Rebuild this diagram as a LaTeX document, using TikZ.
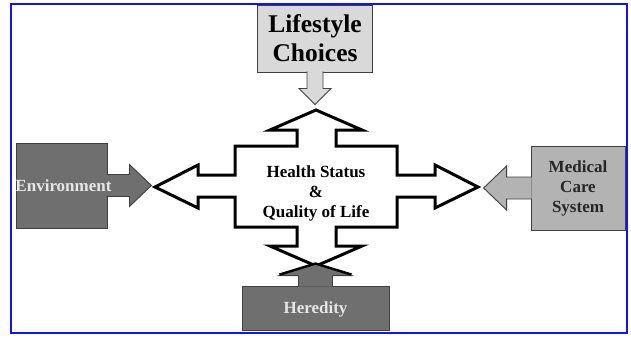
\documentclass[tikz,border=0pt]{standalone}
\usepackage{fontspec}
\setmainfont{Liberation Serif}
\usetikzlibrary{positioning}
\definecolor{lightgrey}{HTML}{D9D9D9}
\definecolor{midgrey}{HTML}{B3B3B3}
\definecolor{darkgrey}{HTML}{6F6F6F}
\definecolor{paletext}{HTML}{E6E6E6}
\definecolor{frameblue}{HTML}{1414F0}
\begin{document}
\begin{tikzpicture}[x=1pt,y=-1pt,
    factor/.style={draw=black!75, line width=0.9pt},
    bigtext/.style={font=\fontsize{25.5}{29}\selectfont\bfseries, align=center},
    smalltext/.style={font=\fontsize{17}{20}\selectfont\bfseries, align=center}]
            \useasboundingbox (0,0) rectangle (631,337);

            % Boxes with manual coordinates
            \node[factor, fill=lightgrey, minimum width=115, minimum height=67, bigtext] (life) at (315,38.5) {Lifestyle\\Choices};
            \node[factor, fill=darkgrey, minimum width=91, minimum height=85] (env) at (61.5,185.5) {};
            \node[factor, fill=midgrey, minimum width=94, minimum height=84, smalltext, text=black!85] (med) at (578,188) {Medical\\Care\\System};
            \node[factor, fill=darkgrey, minimum width=147, minimum height=44] (her) at (315.5,308) {};

            % Arrows out of the boxes
            \filldraw[factor, fill=lightgrey] ([shift={(-8,-1)}]life.south) -- ++(0,17) -- ++(-8,0) -- ++(16,16) -- ++(16,-16) -- ++(-8,0) -- ++(0,-17);
            \filldraw[factor, fill=darkgrey] ([shift={(-1,-11)}]env.east) -- ++(23,0) -- ++(0,-10) -- ++(22,21) -- ++(-22,21) -- ++(0,-10) -- ++(-23,0);
            \filldraw[factor, fill=midgrey] ([shift={(1,-11)}]med.west) -- ++(-25,0) -- ++(0,-11) -- ++(-23,22) -- ++(23,22) -- ++(0,-11) -- ++(25,0);

            % Labels
            \node[smalltext, text=paletext] (envlabel) at ([xshift=2pt]env.center) {Environment};
            \node[smalltext, text=paletext] (herlabel) at ([yshift=-1pt]her.center) {Heredity};

            % Centre cross
            \filldraw[fill=white, draw=black, line width=3pt, line join=miter]
              (316,110) -- (362,130) -- (336,130) -- (336,146) -- (397,146) -- (397,175)
              -- (435,175) -- (435,165) -- (478,187) -- (435,208) -- (435,197) -- (397,197)
              -- (397,227) -- (336,227) -- (336,246) -- (362,246) -- (316,266) -- (270,246)
              -- (297,246) -- (297,227) -- (235,227) -- (235,197) -- (198,197) -- (198,208)
              -- (155,187) -- (198,165) -- (198,175) -- (235,175) -- (235,146) -- (297,146)
              -- (297,130) -- (270,130) -- cycle;
            \node[smalltext] (health) at (316,193) {Health Status\\\&\\Quality of Life};

            % Heredity arrow over the cross tip
            \filldraw[factor, fill=darkgrey] ([shift={(-17,1)}]her.north) -- ++(0,-11) -- ++(-19,0) -- ++(36,-12) -- ++(36,12) -- ++(-19,0) -- ++(0,11);
            \draw[line width=2.4pt] ([shift={(-36,-11)}]her.north) -- ([yshift=22pt]her.north) -- ([shift={(36,-11)}]her.north);

            % Frame
            \draw[frameblue, line width=2.2pt] (11,4) rectangle (627,333);
        \end{tikzpicture}
\end{document}
